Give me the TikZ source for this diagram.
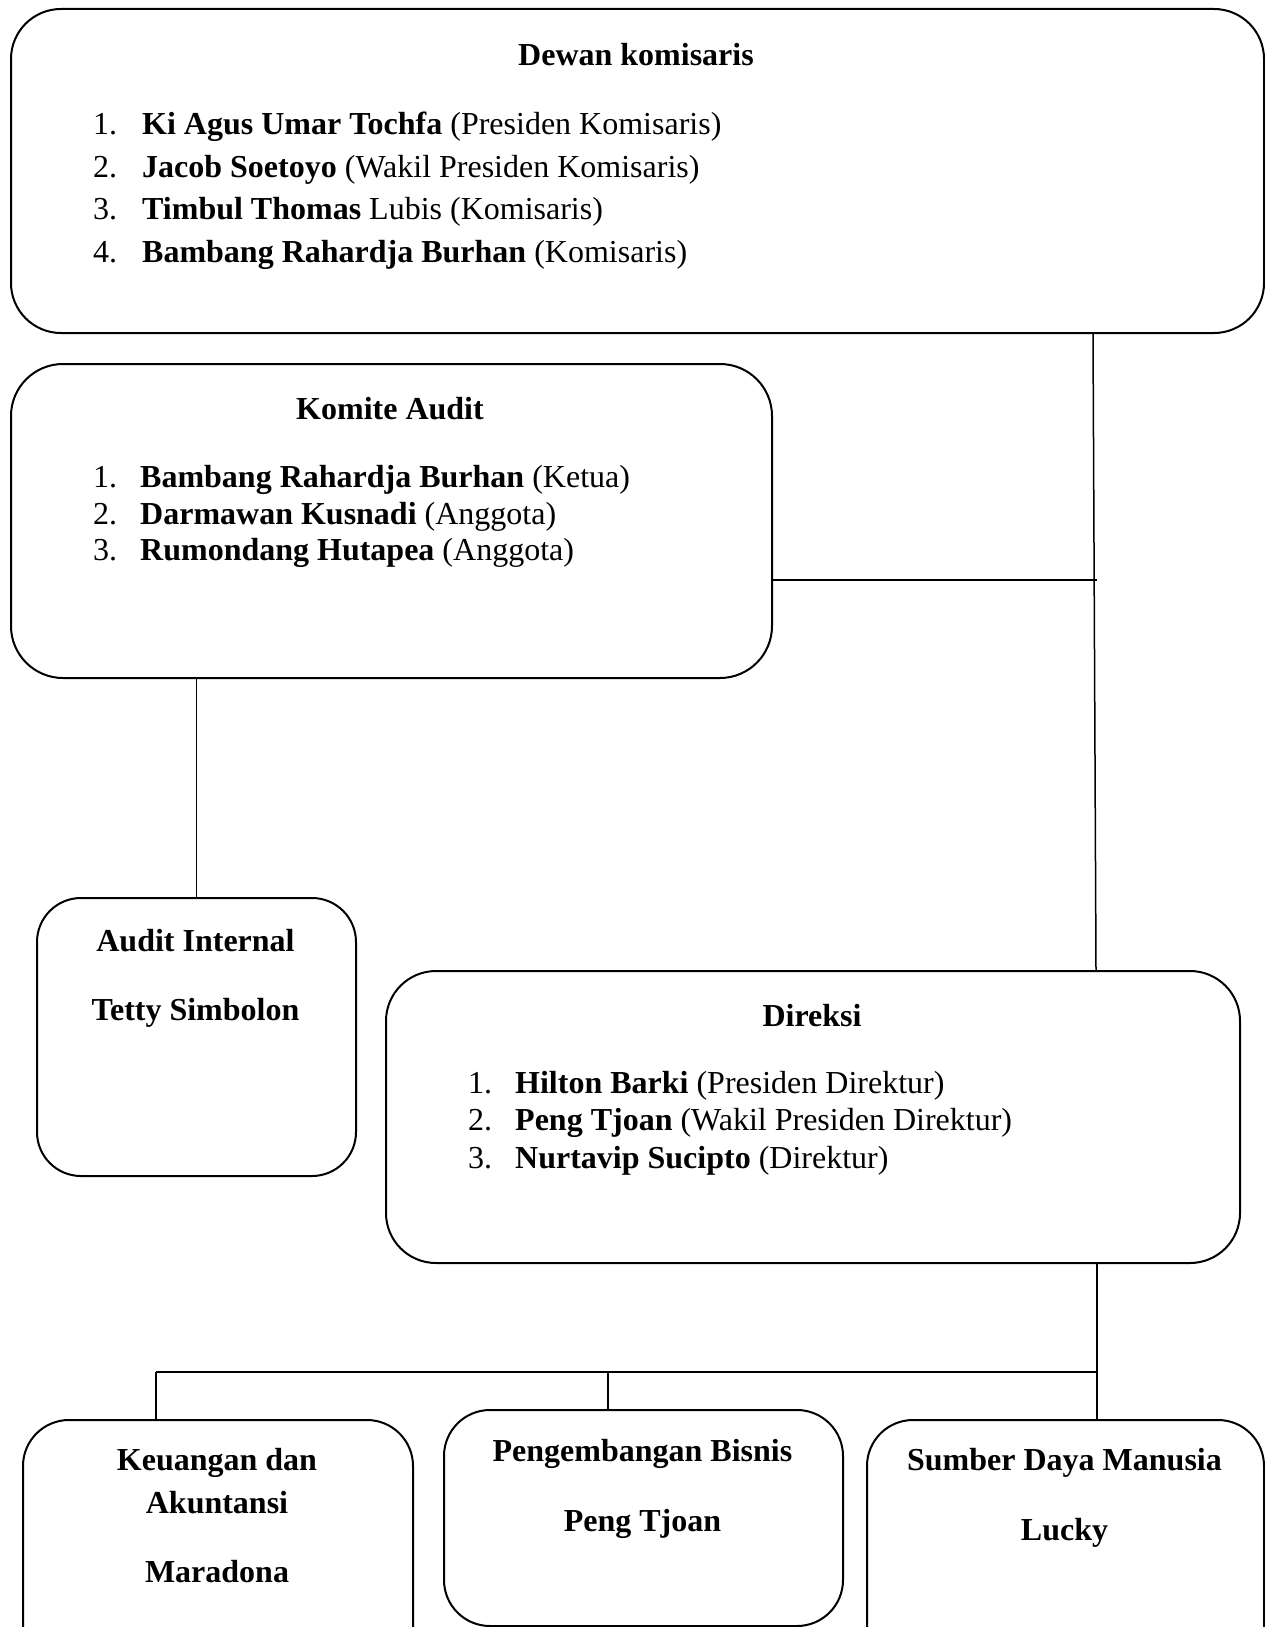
\documentclass[tikz,border=0pt]{standalone}
\usepackage{fontspec}
\setmainfont{Liberation Serif}
\begin{document}
\begin{tikzpicture}[x=1pt,y=-1pt,
  box/.style={draw=black, line width=2pt, rounded corners=#1, inner sep=0pt, anchor=north west},
  box/.default=46pt,
  txt/.style={inner sep=0pt, font=\fontsize{32}{38}\selectfont},
  conn/.style={draw=black, line width=1.5pt},
  busline/.style={draw=black, line width=2.2pt}]
\useasboundingbox (0,0) rectangle (1265,1627);
\clip (0,0) rectangle (1265,1627);
% boxes
\node[box=50pt, minimum width=1253pt, minimum height=324pt] (dk) at (10,8) {};
\node[box=52pt, minimum width=761pt, minimum height=314pt] (ka) at (10,363) {};
\node[box=44pt, minimum width=319pt, minimum height=278pt] (ai) at (36,897) {};
\node[box=50pt, minimum width=854pt, minimum height=292pt] (dir) at (385,970) {};
\node[box=46pt, minimum width=390pt, minimum height=260pt] (ku) at (22,1419) {};
\node[box=46pt, minimum width=399pt, minimum height=216pt] (pb) at (443,1409) {};
\node[box=46pt, minimum width=397pt, minimum height=260pt] (sdm) at (866,1419) {};
% Dewan komisaris
\node[txt, anchor=base] (dkt) at (636,66) {\textbf{Dewan komisaris}};
\node[txt, anchor=base west] (dn1) at (93,134.5) {1.};
\node[txt, anchor=base west] (dm1) at (142,134.5) {\textbf{Ki Agus Umar Tochfa} (Presiden Komisaris)};
\node[txt, anchor=base west] (dn2) at (93,177) {2.};
\node[txt, anchor=base west] (dm2) at (142,177) {\textbf{Jacob Soetoyo} (Wakil Presiden Komisaris)};
\node[txt, anchor=base west] (dn3) at (93,219.5) {3.};
\node[txt, anchor=base west] (dm3) at (142,219.5) {\textbf{Timbul Thomas} Lubis (Komisaris)};
\node[txt, anchor=base west] (dn4) at (93,262) {4.};
\node[txt, anchor=base west] (dm4) at (142,262) {\textbf{Bambang Rahardja Burhan} (Komisaris)};
% Komite Audit
\node[txt, anchor=base] (kat) at (390,419) {\textbf{Komite Audit}};
\node[txt, anchor=base west] (kn1) at (93,487) {1.};
\node[txt, anchor=base west] (km1) at (140,487) {\textbf{Bambang Rahardja Burhan} (Ketua)};
\node[txt, anchor=base west] (kn2) at (93,524) {2.};
\node[txt, anchor=base west] (km2) at (140,524) {\textbf{Darmawan Kusnadi} (Anggota)};
\node[txt, anchor=base west] (kn3) at (93,560) {3.};
\node[txt, anchor=base west] (km3) at (140,560) {\textbf{Rumondang Hutapea} (Anggota)};
% Audit Internal
\node[txt, anchor=base] (ait) at (195.5,951.5) {\textbf{Audit Internal}};
\node[txt, anchor=base] (ain) at (195.5,1020) {\textbf{Tetty Simbolon}};
% Direksi
\node[txt, anchor=base] (dirt) at (812,1026) {\textbf{Direksi}};
\node[txt, anchor=base west] (rn1) at (468,1093.5) {1.};
\node[txt, anchor=base west] (rm1) at (515,1093.5) {\textbf{Hilton Barki} (Presiden Direktur)};
\node[txt, anchor=base west] (rn2) at (468,1130.5) {2.};
\node[txt, anchor=base west] (rm2) at (515,1130.5) {\textbf{Peng Tjoan} (Wakil Presiden Direktur)};
\node[txt, anchor=base west] (rn3) at (468,1168) {3.};
\node[txt, anchor=base west] (rm3) at (515,1168) {\textbf{Nurtavip Sucipto} (Direktur)};
% bottom boxes
\node[txt, anchor=base] (ku1) at (217,1470) {\textbf{Keuangan dan}};
\node[txt, anchor=base] (ku2) at (217,1513) {\textbf{Akuntansi}};
\node[txt, anchor=base] (ku3) at (217,1582) {\textbf{Maradona}};
\node[txt, anchor=base] (pb1) at (642.5,1461) {\textbf{Pengembangan Bisnis}};
\node[txt, anchor=base] (pb2) at (642.5,1531) {\textbf{Peng Tjoan}};
\node[txt, anchor=base] (sd1) at (1064.5,1470) {\textbf{Sumber Daya Manusia}};
\node[txt, anchor=base] (sd2) at (1064.5,1540) {\textbf{Lucky}};
% connectors
\coordinate (j1) at (1095,580);
\coordinate (bus) at (1097,1372);
\coordinate (busL) at (156,1372);
\coordinate (busM) at (608,1372);
\draw[conn] (dk.south -| 1093,0) -- (dir.north -| 1096,0);
\draw[conn] (ka.east |- j1) -- (1097,580);
\draw[conn] (ka.south -| ai.north) -- (ai.north);
\draw[conn] (dir.south -| bus) -- (bus);
\draw[busline] (busL) -- (bus);
\draw[conn] (busL) -- (ku.north -| busL);
\draw[conn] (busM) -- (pb.north -| busM);
\draw[conn] (bus) -- (sdm.north -| bus);
\end{tikzpicture}
\end{document}
